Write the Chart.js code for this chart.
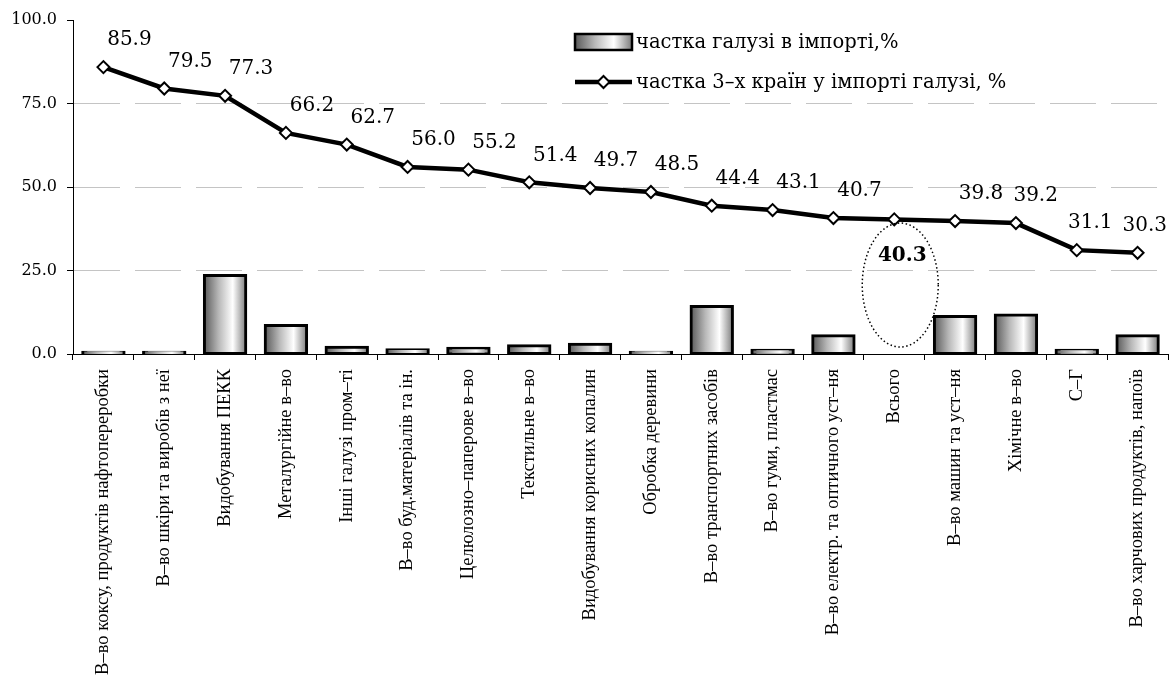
<!DOCTYPE html>
<html>
<head>
<meta charset="utf-8">
<script src="https://cdn.jsdelivr.net/npm/chart.js@4/dist/chart.umd.min.js"></script>
<style>
  html, body { margin: 0; padding: 0; background: #fff; }
  #wrap { width: 1169px; height: 681px; }
</style>
</head>
<body>
<div id="wrap"><canvas id="chart"></canvas></div>
<script>
// categories (industries)
const categories = [
    'В–во коксу, продуктів нафтопереробки',
    'В–во шкіри та виробів з неї',
    'Видобування ПЕКК',
    'Металургійне в–во',
    'Інші галузі пром–ті',
    'В–во буд.матеріалів та ін.',
    'Целюлозно–паперове в–во',
    'Текстильне в–во',
    'Видобування корисних копалин',
    'Обробка деревини',
    'В–во транспортних засобів',
    'В–во гуми, пластмас',
    'В–во електр. та оптичного уст–ня',
    'Всього',
    'В–во машин та уст–ня',
    'Хімічне в–во',
    'С–Г',
    'В–во харчових продуктів, напоїв'
];

// share of the industry in import, %
const industryShare = [0.5, 0.5, 23.5, 8.5, 2.0, 1.3, 1.7, 2.5, 2.9, 0.5, 14.2, 1.1, 5.5, null, 11.2, 11.7, 1.1, 5.5];

// share of 3 countries in import of the industry, %
const topThreeShare = [85.9, 79.5, 77.3, 66.2, 62.7, 56.0, 55.2, 51.4, 49.7, 48.5, 44.4, 43.1, 40.7, 40.3, 39.8, 39.2, 31.1, 30.3];

const yTicks = [0, 25, 50, 75, 100];
const seriesNames = ['частка галузі в імпорті,%', 'частка 3–х країн у імпорті галузі, %'];
const totalIndex = 13;

const numFont = 'DejaVu Serif';

function greyGradient(ctx, x0, x1) {
    const g = ctx.createLinearGradient(x0, 0, x1, 0);
    g.addColorStop(0, '#585858');
    g.addColorStop(0.35, '#b8b8b8');
    g.addColorStop(0.68, '#ffffff');
    g.addColorStop(1, '#7a7a7a');
    return g;
}

function barGradient(context) {
    const chart = context.chart;
    const area = chart.chartArea;
    if (!area || context.dataIndex === undefined) return '#bbb';
    const cx = chart.scales.x.getPixelForValue(context.dataIndex);
    const w = (area.right - area.left) / categories.length * 0.7;
    return greyGradient(chart.ctx, cx - w / 2, cx + w / 2);
}

function drawDiamond(ctx, x, y, r) {
    ctx.beginPath();
    ctx.moveTo(x - r, y);
    ctx.lineTo(x, y - r);
    ctx.lineTo(x + r, y);
    ctx.lineTo(x, y + r);
    ctx.closePath();
    ctx.fillStyle = '#fff';
    ctx.fill();
    ctx.lineWidth = 2;
    ctx.strokeStyle = '#000';
    ctx.stroke();
}

const extras = {
    id: 'extras',
    afterDatasetsDraw(chart) {
        const ctx = chart.ctx;
        const xs = chart.scales.x;
        const ys = chart.scales.y;
        const pts = chart.getDatasetMeta(1).data;

        // value labels of the line (up-right of the point, pushed left when crowded)
        ctx.save();
        ctx.fillStyle = '#000';
        ctx.textAlign = 'center';
        ctx.textBaseline = 'middle';
        ctx.font = '20px "' + numFont + '"';
        const labels = pts.map((p, i) => {
            const txt = topThreeShare[i].toFixed(1);
            return { txt, w: ctx.measureText(txt).width, x: p.x + 26, y: p.y - 27, skip: i === totalIndex };
        });
        for (let i = labels.length - 1; i >= 0; i--) {
            const l = labels[i];
            if (l.skip) continue;
            if (l.x + l.w / 2 > chart.width - 2) l.x = chart.width - 2 - l.w / 2;
            const n = labels[i + 1];
            if (n && !n.skip && l.x + l.w / 2 + 10 > n.x - n.w / 2) l.x = n.x - n.w / 2 - 10 - l.w / 2;
        }
        labels.forEach(l => { if (!l.skip) ctx.fillText(l.txt, l.x, l.y); });

        // "Всього" highlighted inside a dotted ellipse
        const tp = pts[totalIndex];
        const cx = xs.getPixelForValue(totalIndex) + 6;
        const top = ys.getPixelForValue(39.2);
        const bottom = ys.getPixelForValue(2.1);
        ctx.beginPath();
        ctx.setLineDash([1.5, 2.5]);
        ctx.lineWidth = 1.5;
        ctx.strokeStyle = '#000';
        ctx.ellipse(cx, (top + bottom) / 2, 38, (bottom - top) / 2, 0, 0, Math.PI * 2);
        ctx.stroke();
        ctx.setLineDash([]);
        ctx.font = 'bold 20px "' + numFont + '"';
        ctx.fillText(topThreeShare[totalIndex].toFixed(1), tp.x + 8, tp.y + 36);

        // legend
        const lx = 575, lw = 57;
        ctx.fillStyle = greyGradient(ctx, lx, lx + lw);
        ctx.fillRect(lx, 34, lw, 16);
        ctx.lineWidth = 2.5;
        ctx.strokeStyle = '#000';
        ctx.strokeRect(lx, 34, lw, 16);

        ctx.beginPath();
        ctx.lineWidth = 4.5;
        ctx.moveTo(lx, 82);
        ctx.lineTo(lx + lw, 82);
        ctx.stroke();
        drawDiamond(ctx, lx + lw / 2, 82, 6);

        ctx.fillStyle = '#000';
        ctx.textAlign = 'left';
        ctx.font = '19.5px "' + numFont + '"';
        ctx.fillText(seriesNames[0], lx + lw + 4, 43);
        ctx.fillText(seriesNames[1], lx + lw + 4, 83);
        ctx.restore();
    }
};

const chart = new Chart(document.getElementById('chart'), {
    data: {
        labels: categories,
        datasets: [
            {
                type: 'bar',
                label: seriesNames[0],
                data: industryShare,
                backgroundColor: barGradient,
                borderColor: '#000',
                borderWidth: 3,
                borderSkipped: false,
                inflateAmount: 1.5,
                barPercentage: 0.68,
                categoryPercentage: 1,
                order: 2
            },
            {
                type: 'line',
                label: seriesNames[1],
                data: topThreeShare,
                borderColor: '#000',
                borderWidth: 4.5,
                pointStyle: 'rectRot',
                pointRadius: 6,
                pointBackgroundColor: '#fff',
                pointBorderColor: '#000',
                pointBorderWidth: 2,
                tension: 0,
                order: 1
            }
        ]
    },
    options: {
        responsive: true,
        maintainAspectRatio: false,
        animation: false,
        devicePixelRatio: 1,
        layout: { autoPadding: false, padding: { top: 20, right: 1, left: 0, bottom: 0 } },
        plugins: {
            legend: { display: false },
            tooltip: { enabled: false }
        },
        scales: {
            x: {
                offset: true,
                grid: {
                    offset: true,
                    drawOnChartArea: false,
                    drawTicks: true,
                    tickLength: 6,
                    tickColor: '#000'
                },
                border: { display: true, color: '#000', width: 1 },
                ticks: {
                    autoSkip: false,
                    minRotation: 90,
                    maxRotation: 90,
                    padding: 9,
                    color: '#000',
                    font: { family: 'Liberation Serif', size: 18.5 }
                },
                afterFit(scale) {
                    scale.height = 327;
                    scale.paddingLeft = 0;
                    scale.paddingRight = 0;
                }
            },
            y: {
                min: 0,
                max: 100,
                afterBuildTicks(scale) { scale.ticks = yTicks.map(v => ({ value: v })); },
                grid: {
                    color: c => (c.tick && (c.tick.value === 0 || c.tick.value === 100)) ? 'rgba(0,0,0,0)' : '#c4c4c4',
                    tickColor: '#000',
                    tickLength: 6,
                    lineWidth: 1
                },
                border: { display: true, color: '#000', width: 1, dash: [46, 15] },
                ticks: {
                    padding: 10,
                    color: '#000',
                    font: { family: numFont, size: 16 },
                    callback: v => Number(v).toFixed(1)
                },
                afterFit(scale) { scale.width = 73; }
            }
        }
    },
    plugins: [extras]
});
</script>
</body>
</html>
